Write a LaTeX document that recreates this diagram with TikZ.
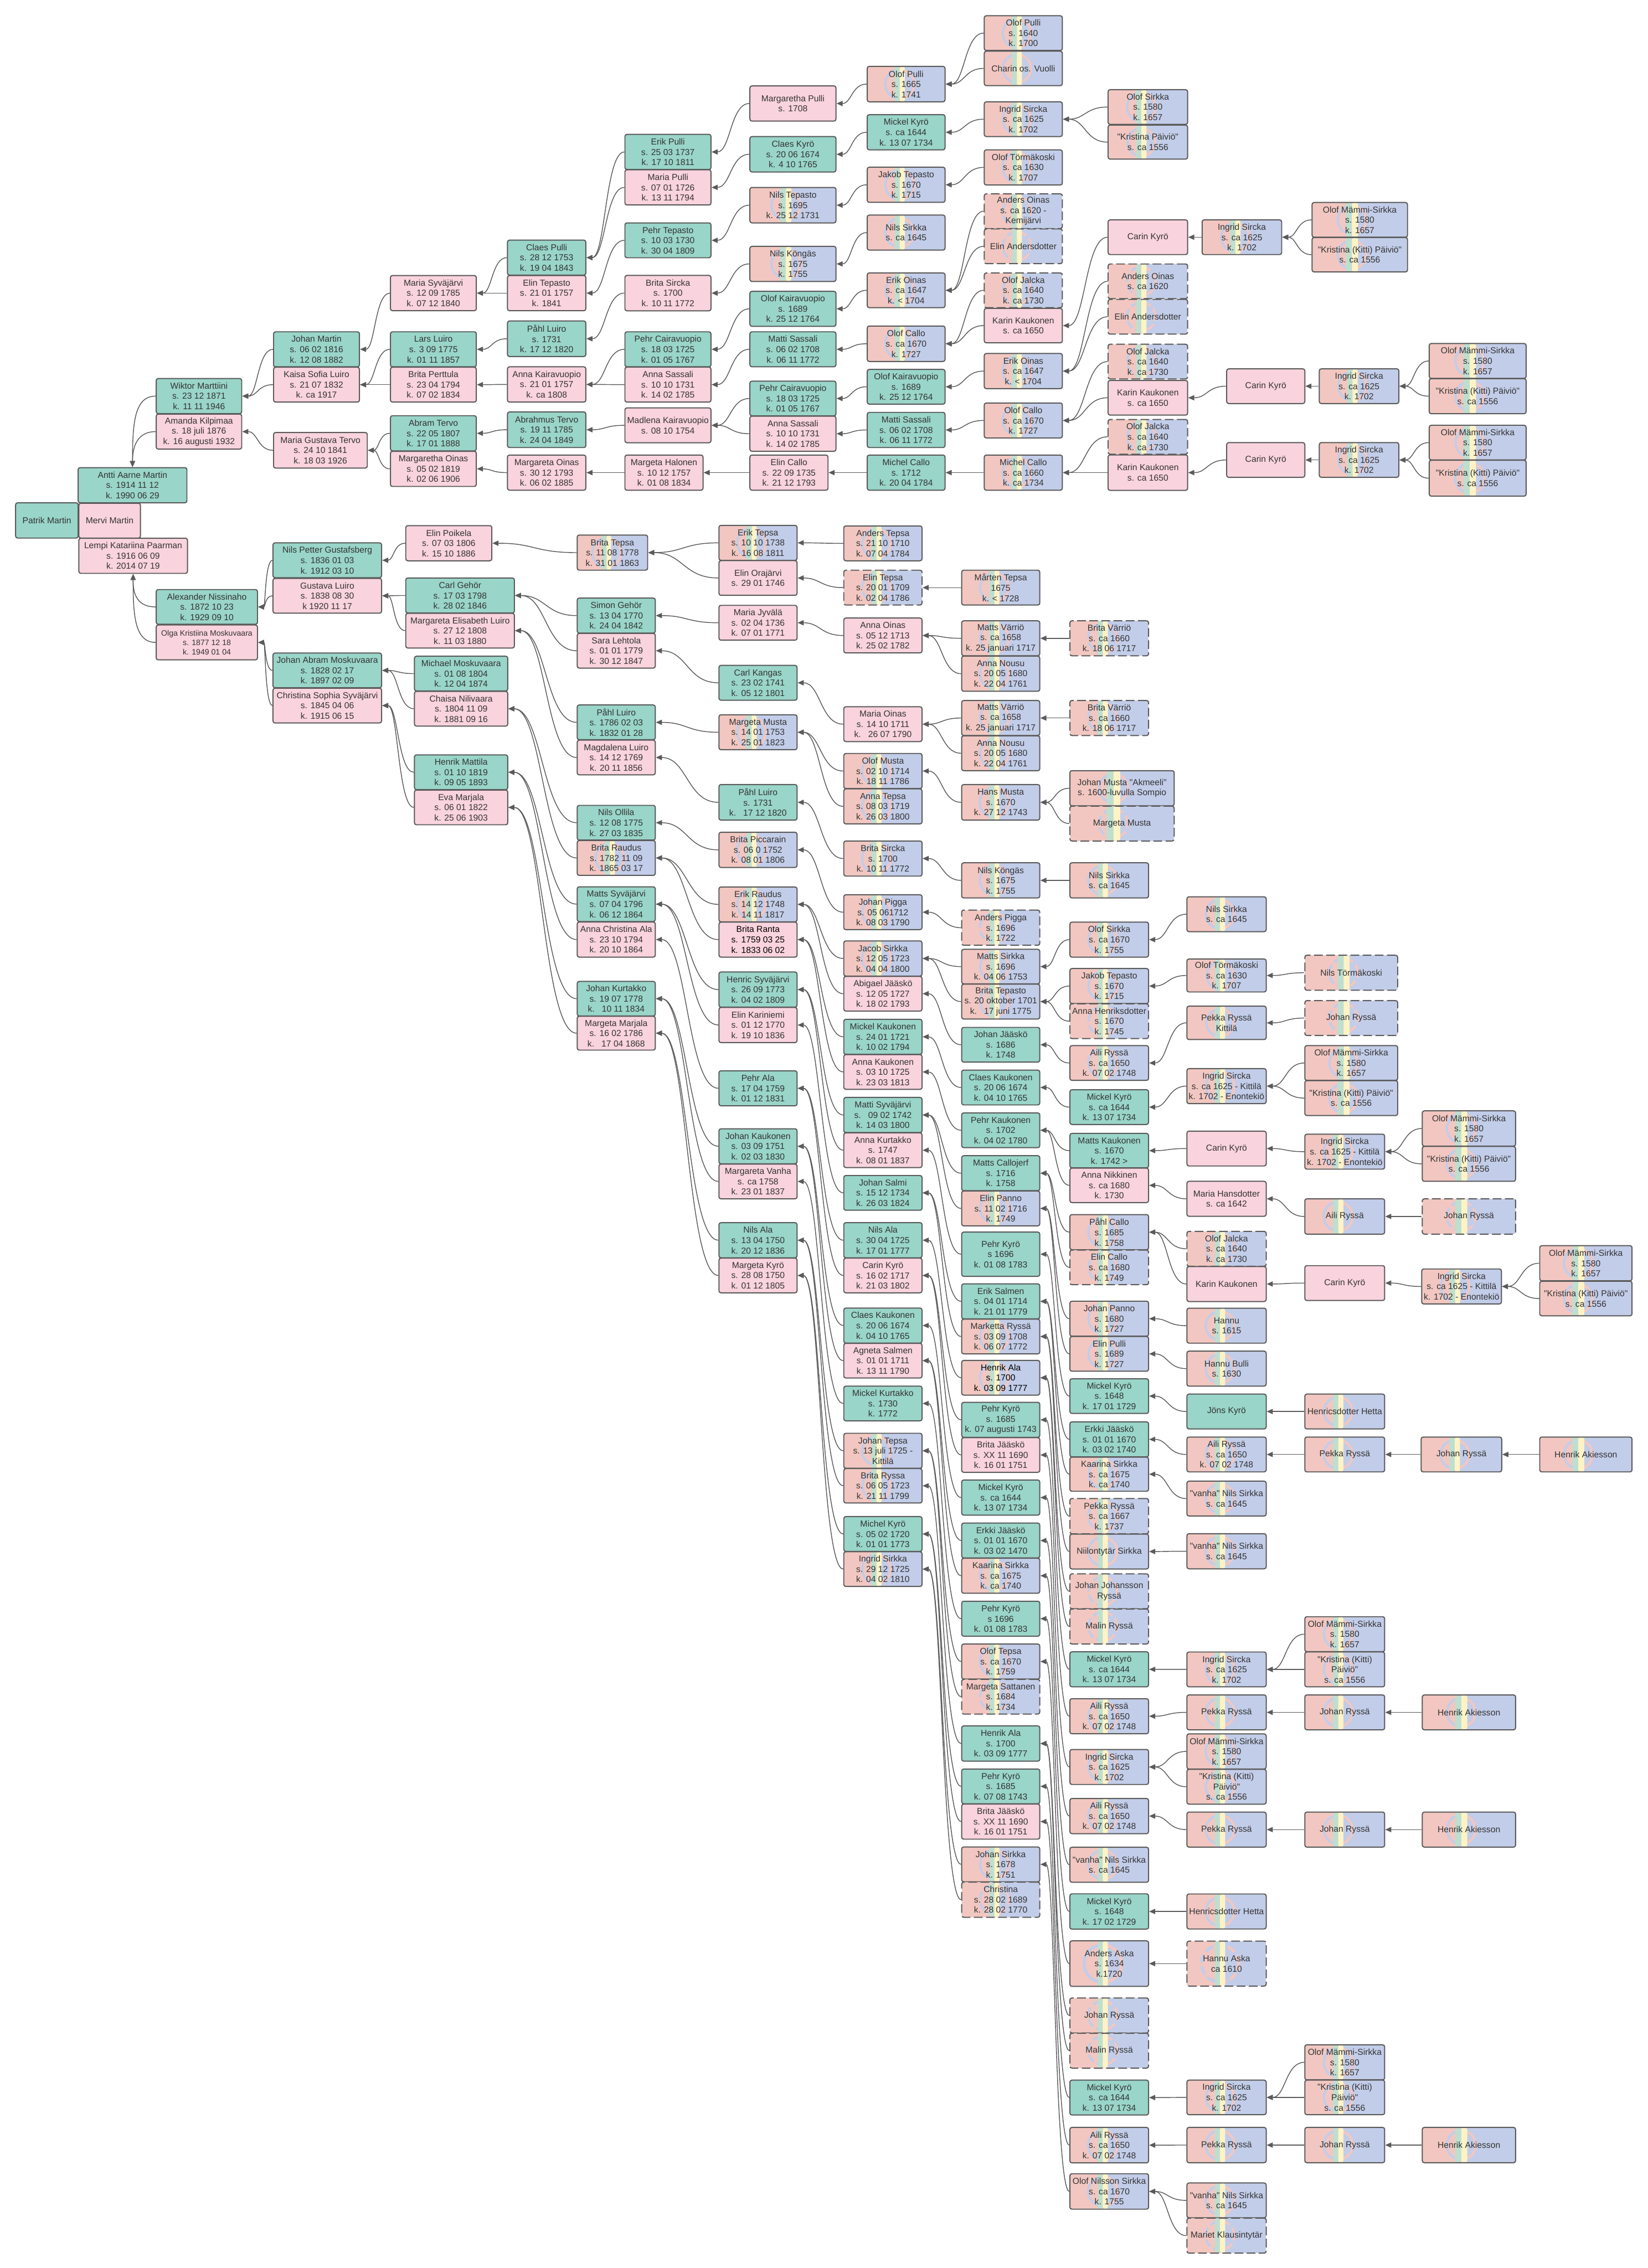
\documentclass[tikz,border=0pt]{standalone}
\usepackage{fontspec}
\newfontfamily\lsans{Liberation Sans}
\usetikzlibrary{arrows.meta,calc}
\definecolor{cTeal}{HTML}{99D5C9}
\definecolor{cPink}{HTML}{F9D3DE}
\definecolor{cSal}{HTML}{F2C7C1}
\definecolor{cBlu}{HTML}{C2CDE9}
\definecolor{cGrn}{HTML}{BEDFCF}
\definecolor{cYel}{HTML}{FFF3C6}
\definecolor{cBorder}{HTML}{5A5A5A}
\definecolor{cLine}{HTML}{5A5A5A}
\definecolor{cText}{HTML}{333333}
\pgfdeclarelayer{bg}\pgfsetlayers{bg,main}
\newcommand\samiflag{%
  \pgfpointanchor{path picture bounding box}{south west}\pgfgetlastxy{\smXa}{\smYa}%
  \pgfpointanchor{path picture bounding box}{north east}\pgfgetlastxy{\smXb}{\smYb}%
  \pgfmathsetlengthmacro\smW{(\smXb)-(\smXa)}%
  \pgfmathsetlengthmacro\smH{abs((\smYb)-(\smYa))}%
  \pgfmathsetlengthmacro\smC{(\smXa)+0.418*(\smW)}%
  \pgfmathsetlengthmacro\smM{((\smYa)+(\smYb))/2}%
  \pgfmathsetlengthmacro\smR{0.41*(\smH)}%
  \pgfmathsetlengthmacro\smS{0.064*(\smW)}%
  \pgfmathsetlengthmacro\smL{0.065*(\smH)}%
  \pgfmathsetlengthmacro\smCa{(\smC)-(\smS)}%
  \pgfmathsetlengthmacro\smCb{(\smC)+(\smS)}%
  \fill[cSal] (\smXa,\smYa) rectangle (\smXb,\smYb);
  \fill[cBlu] (\smC,\smYa) rectangle (\smXb,\smYb);
  \begin{scope}
    \clip (\smXa,\smYa) rectangle (\smC,\smYb);
    \draw[cBlu,line width=\smL] (\smC,\smM) circle[radius=\smR];
  \end{scope}
  \begin{scope}
    \clip (\smC,\smYa) rectangle (\smXb,\smYb);
    \draw[cSal,line width=\smL] (\smC,\smM) circle[radius=\smR];
  \end{scope}
  \fill[cGrn] (\smCa,\smYa) rectangle (\smC,\smYb);
  \fill[cYel] (\smC,\smYa) rectangle (\smCb,\smYb);
}
\tikzset{
  box/.style={draw=cBorder,line width=0.75pt,rounded corners=1.4pt,inner sep=0.5pt,
    align=center,text=cText,font=\lsans\fontsize{6}{7.1}\selectfont},
  M/.style={box,fill=cTeal},
  F/.style={box,fill=cPink},
  S/.style={box,path picture={\samiflag}},
  dsh/.style={dash pattern=on 6pt off 2.4pt},
  small/.style={font=\lsans\fontsize{5.4}{6.5}\selectfont},
  dark/.style={text=black},
  conn/.style={draw=cLine,line width=0.55pt,-{Triangle[length=4.2pt,width=3.6pt]}},
}
\newcommand\Nd[7]{\node[#2,minimum width={(#5)-(#3)},minimum height={(#6)-(#4)}] (#1) at ({((#3)+(#5))/2},{((#4)+(#6))/2}) {#7};}
\newcommand\setcol[2]{\def\cxa{#1}\def\cxb{#2}}
\newcommand\Bx[5]{\Nd{#1}{#2}{\cxa}{#3}{\cxb}{#4}{#5}}
\newcommand\Cn[2]{\draw[conn] let \p1=(#1.west), \p2=(#2.east), \n1={(\x1+\x2)/2} in (\p1) .. controls (\n1,\y1) and (\n1,\y2) .. (\p2);}
\begin{document}
\begin{tikzpicture}[x=1pt,y=-1pt]
\useasboundingbox (0,0) rectangle (1139,1568);
% ================= UPPER =================
\Nd{patrik}{M}{10.8}{347.6}{54}{372}{Patrik Martin}
\Nd{mervi}{F}{54.5}{347.9}{97.1}{372}{Mervi Martin}
\Nd{antti}{M}{54}{323.3}{129.2}{347.6}{Antti Aarne Martin\\s. 1914 11 12\\k. 1990 06 29}
\Nd{lempi}{F}{54.5}{372.1}{129.6}{396.4}{Lempi Katariina Paarman\\s. 1916 06 09\\k. 2014 07 19}
\setcol{108}{167.1}
\Bx{wiktor}{M}{261.7}{286}{Wiktor Marttiini\\s. 23 12 1871\\k. 11 11 1946}
\Bx{amanda}{F}{286.3}{310.5}{Amanda Kilpimaa\\s. 18 juli 1876\\k. 16 augusti 1932}
\setcol{189.1}{248.5}
\Bx{johanm}{M}{229.4}{253.6}{Johan Martin\\s. 06 02 1816\\k. 12 08 1882}
\Bx{kaisa}{F}{253.9}{278}{Kaisa Sofia Luiro\\s. 21 07 1832\\k. ca 1917}
\Nd{mgtervo}{F}{189.1}{299}{253.9}{323.6}{Maria Gustava Tervo\\s. 24 10 1841\\k. 18 03 1926}
\setcol{269.9}{329.3}
\Bx{msyv}{F}{190.5}{214.8}{Maria Syväjärvi\\s. 12 09 1785\\k. 07 12 1840}
\Bx{larsl}{M}{229.4}{253.6}{Lars Luiro\\s. 3 09 1775\\k. 01 11 1857}
\Bx{britap}{F}{253.9}{278}{Brita Perttula\\s. 23 04 1794\\k. 07 02 1834}
\Bx{abramt}{M}{287.4}{311.7}{Abram Tervo\\s. 22 05 1807\\k. 17 01 1888}
\Bx{margoin1}{F}{312}{336.3}{Margaretha Oinas\\s. 05 02 1819\\k. 02 06 1906}
\setcol{350.8}{405}
\Bx{claesp}{M}{166}{190.2}{Claes Pulli\\s. 28 12 1753\\k. 19 04 1843}
\Bx{elint}{F}{190.5}{214.8}{Elin Tepasto\\s. 21 01 1757\\k. 1841}
\Bx{pahla}{M}{221.9}{246.5}{Påhl Luiro\\s. 1731\\k. 17 12 1820}
\Bx{annak}{F}{253.6}{278}{Anna Kairavuopio\\s. 21 01 1757\\k. ca 1808}
\Bx{abrahmus}{M}{284.8}{309.4}{Abrahmus Tervo\\s. 19 11 1785\\k. 24 04 1849}
\Bx{margoin2}{F}{314.6}{338.9}{Margareta Oinas\\s. 30 12 1793\\k. 06 02 1885}
\setcol{432}{491.5}
\Bx{erikp}{M}{92.9}{117.2}{Erik Pulli\\s. 25 03 1737\\k. 17 10 1811}
\Bx{mariap}{F}{117.4}{141.7}{Maria Pulli\\s. 07 01 1726\\k. 13 11 1794}
\Bx{pehrt}{M}{154.1}{178.2}{Pehr Tepasto\\s. 10 03 1730\\k. 30 04 1809}
\Bx{britas}{F}{190.4}{214.9}{Brita Sircka\\s. 1700\\k. 10 11 1772}
\Bx{pehrca}{M}{229.4}{253.6}{Pehr Cairavuopio\\s. 18 03 1725\\k. 01 05 1767}
\Bx{annasa}{F}{253.8}{278}{Anna Sassali\\s. 10 10 1731\\k. 14 02 1785}
\Bx{madlena}{F}{282}{306.1}{Madlena Kairavuopio\\s. 08 10 1754}
\Nd{margh}{F}{432}{314.6}{486}{338.9}{Margeta Halonen\\s. 10 12 1757\\k. 01 08 1834}
\setcol{518.4}{577.9}
\Bx{margp}{F}{59.4}{83.7}{Margaretha Pulli\\s. 1708}
\Bx{claesk}{M}{94.4}{118.9}{Claes Kyrö\\s. 20 06 1674\\k. 4 10 1765}
\Bx{nilst}{S}{129.6}{154.1}{Nils Tepasto\\s. 1695\\k. 25 12 1731}
\Bx{nilsk}{S}{170.3}{194.6}{Nils Köngäs\\s. 1675\\k. 1755}
\Bx{olofka}{M}{201.4}{225.6}{Olof Kairavuopio\\s. 1689\\k. 25 12 1764}
\Bx{mattisa}{M}{229.4}{253.6}{Matti Sassali\\s. 06 02 1708\\k. 06 11 1772}
\Bx{pehrcb}{M}{263.5}{287.5}{Pehr Cairavuopio\\s. 18 03 1725\\k. 01 05 1767}
\Bx{annasb}{F}{287.7}{312}{Anna Sassali\\s. 10 10 1731\\k. 14 02 1785}
\Nd{elinc}{F}{518.4}{314.6}{572.4}{338.9}{Elin Callo\\s. 22 09 1735\\k. 21 12 1793}
\setcol{599.5}{653.3}
\Bx{olofpb}{S}{45.9}{70.4}{Olof Pulli\\s. 1665\\k. 1741}
\Bx{mickk}{M}{79.3}{103.6}{Mickel Kyrö\\s. ca 1644\\k. 13 07 1734}
\Bx{jakobt}{S}{115.6}{139.9}{Jakob Tepasto\\s. 1670\\k. 1715}
\Bx{nilssi}{S}{148.7}{172.9}{Nils Sirkka\\s. ca 1645}
\Bx{erikoa}{S}{188.7}{212.7}{Erik Oinas\\s. ca 1647\\k. < 1704}
\Bx{olofca}{S}{225.4}{249.9}{Olof Callo\\s. ca 1670\\k. 1727}
\Bx{olofkb}{M}{255.4}{279.4}{Olof Kairavuopio\\s. 1689\\k. 25 12 1764}
\Bx{mattisb}{M}{285.1}{309.4}{Matti Sassali\\s. 06 02 1708\\k. 06 11 1772}
\Bx{michca}{M}{314.6}{338.9}{Michel Callo\\s. 1712\\k. 20 04 1784}
\setcol{680.4}{734.4}
\Bx{olofpa}{S}{10.9}{34.9}{Olof Pulli\\s. 1640\\k. 1700}
\Bx{charin}{S}{35.4}{59.2}{Charin os. Vuolli}
\Bx{ingra}{S}{70.4}{94.4}{Ingrid Sircka\\s. ca 1625\\k. 1702}
\Bx{olofta}{S}{103.6}{127.9}{Olof Törmäkoski\\s. ca 1630\\k. 1707}
\Bx{andoa}{S,dsh}{134}{158}{Anders Oinas\\s. ca 1620 -\\Kemijärvi}
\Bx{elinaa}{S,dsh}{158.3}{182.3}{Elin Andersdotter}
\Bx{olofja}{S,dsh}{188.7}{212.7}{Olof Jalcka\\s. ca 1640\\k. ca 1730}
\Bx{karinka}{F}{213.2}{237}{Karin Kaukonen\\s. ca 1650}
\Bx{erikob}{S}{244.4}{268.7}{Erik Oinas\\s. ca 1647\\k. < 1704}
\Bx{olofcb}{S}{278.6}{302.8}{Olof Callo\\s. ca 1670\\k. 1727}
\Bx{michcb}{S}{314.6}{338.9}{Michel Callo\\s. ca 1660\\k. ca 1734}
\setcol{766}{821}
\Bx{olofsa}{S}{62}{86}{Olof Sirkka\\s. 1580\\k. 1657}
\Bx{krispa}{S}{86.5}{110}{"Kristina Päiviö"\\s. ca 1556}
\Bx{carina}{F}{152}{176}{Carin Kyrö}
\Bx{andob}{S,dsh}{182.5}{206.5}{Anders Oinas\\s. ca 1620}
\Bx{elinab}{S,dsh}{207}{231}{Elin Andersdotter}
\Bx{olofjb}{S,dsh}{238}{262}{Olof Jalcka\\s. ca 1640\\k. ca 1730}
\Bx{karinkb}{F}{263}{287}{Karin Kaukonen\\s. ca 1650}
\Bx{olofjc}{S,dsh}{290}{314}{Olof Jalcka\\s. ca 1640\\k. ca 1730}
\Bx{karinkc}{F}{314.5}{339}{Karin Kaukonen\\s. ca 1650}
\Nd{ingrb}{S}{831}{152}{886}{176}{Ingrid Sircka\\s. ca 1625\\k. 1702}
\Nd{olofma}{S}{907}{140}{973}{164}{Olof Mämmi-Sirkka\\s. 1580\\k. 1657}
\Nd{kriska}{S}{907}{164.2}{973}{188}{"Kristina (Kitti) Päiviö"\\s. ca 1556}
\Nd{carinb}{F}{848}{255}{902}{279}{Carin Kyrö}
\Nd{ingrc}{S}{912}{255}{967}{279}{Ingrid Sircka\\s. ca 1625\\k. 1702}
\Nd{olofmb}{S}{988}{237.5}{1055}{261.6}{Olof Mämmi-Sirkka\\s. 1580\\k. 1657}
\Nd{kriskb}{S}{988}{261.8}{1055}{286}{"Kristina (Kitti) Päiviö"\\s. ca 1556}
\Nd{carinc}{F}{848}{306}{902}{330}{Carin Kyrö}
\Nd{ingrd}{S}{912}{306}{967}{330}{Ingrid Sircka\\s. ca 1625\\k. 1702}
\Nd{olofmc}{S}{988}{294}{1055}{318}{Olof Mämmi-Sirkka\\s. 1580\\k. 1657}
\Nd{kriskc}{S}{988}{318.2}{1055}{343}{"Kristina (Kitti) Päiviö"\\s. ca 1556}
% ================= LOWER =================
\Nd{alex}{M}{108}{407.6}{178}{431.6}{Alexander Nissinaho\\s. 1872 10 23\\k. 1929 09 10}
\Nd{olga}{F,small}{108}{432.1}{178}{456.2}{Olga Kristiina Moskuvaara\\s. 1877 12 18\\k. 1949 01 04}
\setcol{188.7}{263.8}
\Bx{nilspg}{M}{375.3}{399.4}{Nils Petter Gustafsberg\\s. 1836 01 03\\k. 1912 03 10}
\Bx{gustava}{F}{399.9}{423.9}{Gustava Luiro\\s. 1838 08 30\\k 1920 11 17}
\Bx{johanab}{M}{451.5}{475.5}{Johan Abram Moskuvaara\\s. 1828 02 17\\k. 1897 02 09}
\Bx{christs}{F}{475.8}{499.8}{Christina Sophia Syväjärvi\\s. 1845 04 06\\k. 1915 06 15}
\Nd{elinp}{F}{280.5}{363.4}{340}{387.7}{Elin Poikela\\s. 07 03 1806\\k. 15 10 1886}
\setcol{280.5}{355.6}
\Bx{carlg}{M}{399.6}{423.8}{Carl Gehör\\s. 17 03 1798\\k. 28 02 1846}
\Bx{margel}{F}{424}{448}{Margareta Elisabeth Luiro\\s. 27 12 1808\\k. 11 03 1880}
\setcol{286.5}{351}
\Bx{michaelm}{M}{453.7}{477.7}{Michael Moskuvaara\\s. 01 08 1804\\k. 12 04 1874}
\Bx{chaisa}{F}{478}{502}{Chaisa Nilivaara\\s. 1804 11 09\\k. 1881 09 16}
\Bx{henrikm}{M}{521.9}{545.9}{Henrik Mattila\\s. 01 10 1819\\k. 09 05 1893}
\Bx{evam}{F}{546.2}{570.2}{Eva Marjala\\s. 06 01 1822\\k. 25 06 1903}
\Nd{britatep}{S}{399}{369.9}{447.7}{394.2}{Brita Tepsa\\s. 11 08 1778\\k. 31 01 1863}
\setcol{399}{453}
\Bx{simong}{M}{413.5}{437.7}{Simon Gehör\\s. 13 04 1770\\k. 24 04 1842}
\Bx{saral}{F}{437.9}{461.9}{Sara Lehtola\\s. 01 01 1779\\k. 30 12 1847}
\Bx{pahlb}{M}{487.4}{511.4}{Påhl Luiro\\s. 1786 02 03\\k. 1832 01 28}
\Bx{magdal}{F}{511.7}{535.7}{Magdalena Luiro\\s. 14 12 1769\\k. 20 11 1856}
\Bx{nilso}{M}{556.8}{580.8}{Nils Ollila\\s. 12 08 1775\\k. 27 03 1835}
\Bx{britar}{S}{581.1}{605.2}{Brita Raudus\\s. 1782 11 09\\k. 1865 03 17}
\Bx{mattssy}{M}{613.1}{637.1}{Matts Syväjärvi\\s. 07 04 1796\\k. 06 12 1864}
\Bx{annachr}{F}{637.4}{661.7}{Anna Christina Ala\\s. 23 10 1794\\k. 20 10 1864}
\Bx{johankur}{M}{678.5}{702.4}{Johan Kurtakko\\s. 19 07 1778\\k.\ \ \ 10 11 1834}
\Bx{margmar}{F}{702.6}{726}{Margeta Marjala\\s. 16 02 1786\\k.\ \ \ 17 04 1868}
\setcol{497}{551}
\Bx{erikt}{S}{363.2}{387.4}{Erik Tepsa\\s. 10 10 1738\\k. 16 08 1811}
\Bx{elino}{F}{387.6}{411.6}{Elin Orajärvi\\s. 29 01 1746}
\Bx{mariaj}{F}{418.5}{442.6}{Maria Jyvälä\\s. 02 04 1736\\k. 07 01 1771}
\Bx{carlk}{M}{460}{484.1}{Carl Kangas\\s. 23 02 1741\\k. 05 12 1801}
\Bx{margma}{S}{494.2}{518.3}{Margeta Musta\\s. 14 01 1753\\k. 25 01 1823}
\Bx{pahlc}{M}{542.4}{567}{Påhl Luiro\\s. 1731\\k.\ \ \ 17 12 1820}
\Bx{britapic}{S}{575.4}{599.7}{Brita Piccarain\\s. 06 0 1752\\k. 08 01 1806}
\Bx{erikr}{S}{613.2}{637.3}{Erik Raudus\\s. 14 12 1748\\k. 14 11 1817}
\Bx{britaran}{F,dark}{637.5}{661.7}{Brita Ranta\\s. 1759 03 25\\k. 1833 06 02}
\Bx{henricsy}{M}{672}{696.3}{Henric Syväjärvi\\s. 26 09 1773\\k. 04 02 1809}
\Bx{elinkar}{F}{696.5}{720.8}{Elin Kariniemi\\s. 01 12 1770\\k. 19 10 1836}
\Bx{pehrala}{M}{740.3}{764.5}{Pehr Ala\\s. 17 04 1759\\k. 01 12 1831}
\Bx{johankau}{M}{780.4}{804.6}{Johan Kaukonen\\s. 03 09 1751\\k. 02 03 1830}
\Bx{margvan}{F}{804.8}{828.8}{Margareta Vanha\\s. ca 1758\\k. 23 01 1837}
\Bx{nilsalaa}{M}{845.3}{869.6}{Nils Ala\\s. 13 04 1750\\k. 20 12 1836}
\Bx{margkyr}{F}{869.8}{893.8}{Margeta Kyrö\\s. 28 08 1750\\k. 01 12 1805}
\setcol{583.3}{637.4}
\Bx{anderst}{S}{363.6}{387.7}{Anders Tepsa\\s. 21 10 1710\\k. 07 04 1784}
\Bx{elintep}{S,dsh}{394.2}{418.3}{Elin Tepsa\\s. 20 01 1709\\k. 02 04 1786}
\Bx{annaoin}{F}{427.3}{451.4}{Anna Oinas\\s. 05 12 1713\\k. 25 02 1782}
\Bx{mariaoin}{F}{488.6}{512.7}{Maria Oinas\\s. 14 10 1711\\k.\ \ \ 26 07 1790}
\Bx{olofmus}{S}{520.9}{545.2}{Olof Musta\\s. 02 10 1714\\k. 18 11 1786}
\Bx{annatep}{S}{545.4}{569.6}{Anna Tepsa\\s. 08 03 1719\\k. 26 03 1800}
\Bx{britasib}{S}{581.4}{605.7}{Brita Sircka\\s. 1700\\k. 10 11 1772}
\Bx{johanpig}{S}{618.6}{642.7}{Johan Pigga\\s. 05 061712\\k. 08 03 1790}
\Bx{jacobs}{S}{650.5}{674.8}{Jacob Sirkka\\s. 12 05 1723\\k. 04 04 1800}
\Bx{abigael}{F}{675}{699}{Abigael Jääskö\\s. 12 05 1727\\k. 18 02 1793}
\Bx{mickkau}{M}{704.7}{728.9}{Mickel Kaukonen\\s. 24 01 1721\\k. 10 02 1794}
\Bx{annakau}{F}{729.1}{753.1}{Anna Kaukonen\\s. 03 10 1725\\k. 23 03 1813}
\Bx{mattisy}{M}{758.7}{783}{Matti Syväjärvi\\s.\ \ \ 09 02 1742\\k. 14 03 1800}
\Bx{annakur}{F}{783.2}{807.2}{Anna Kurtakko\\s. 1747\\k. 08 01 1837}
\Bx{johansal}{M}{812.7}{836.7}{Johan Salmi\\s. 15 12 1734\\k. 26 03 1824}
\Bx{nilsalab}{M}{845.3}{869.6}{Nils Ala\\s. 30 04 1725\\k. 17 01 1777}
\Bx{carinky}{F}{869.8}{893.8}{Carin Kyrö\\s. 16 02 1717\\k. 21 03 1802}
\Bx{claeska}{M}{904.3}{928.5}{Claes Kaukonen\\s. 20 06 1674\\k. 04 10 1765}
\Bx{agneta}{F}{928.7}{952.7}{Agneta Salmen\\s. 01 01 1711\\k. 13 11 1790}
\Bx{mickkur}{M}{958.3}{982.3}{Mickel Kurtakko\\s. 1730\\k. 1772}
\Bx{johantep}{S}{990.9}{1015.1}{Johan Tepsa\\s. 13 juli 1725 -\\Kittilä}
\Bx{britarys}{S}{1015.3}{1039.1}{Brita Ryssa\\s. 06 05 1723\\k. 21 11 1799}
\Bx{michkyr}{M}{1048.5}{1072.6}{Michel Kyrö\\s. 05 02 1720\\k. 01 01 1773}
\Bx{ingrsir}{S}{1072.8}{1096.8}{Ingrid Sirkka\\s. 29 12 1725\\k. 04 02 1810}
\setcol{664.8}{718.8}
\Bx{marten}{S}{394.2}{418.3}{Mårten Tepsa\\1675\\k. < 1728}
\Bx{mattsva}{S}{429.2}{453.4}{Matts Värriö\\s. ca 1658\\k. 25 januari 1717}
\Bx{annana}{S}{453.6}{477.9}{Anna Nousu\\s. 20 05 1680\\k. 22 04 1761}
\Bx{mattsvb}{S}{484.3}{508.5}{Matts Värriö\\s. ca 1658\\k. 25 januari 1717}
\Bx{annanb}{S}{508.7}{532.8}{Anna Nousu\\s. 20 05 1680\\k. 22 04 1761}
\Bx{hansm}{S}{542.4}{567}{Hans Musta\\s. 1670\\k. 27 12 1743}
\Bx{nilskb}{S}{596.5}{620.8}{Nils Köngäs\\s. 1675\\k. 1755}
\Bx{anderspig}{S,dsh}{629.2}{653.5}{Anders Pigga\\s. 1696\\k. 1722}
\Bx{mattssir}{S}{656.3}{680.2}{Matts Sirkka\\s. 1696\\k. 04 06 1753}
\Bx{britatepa}{S}{680.4}{704.5}{Brita Tepasto\\s. 20 oktober 1701\\k.\ \ \ 17 juni 1775}
\Bx{johanjaa}{M}{710.3}{734.3}{Johan Jääskö\\s. 1686\\k. 1748}
\Bx{claeskb}{M}{739.8}{763.9}{Claes Kaukonen\\s. 20 06 1674\\k. 04 10 1765}
\Bx{pehrkau}{M}{769.4}{793.4}{Pehr Kaukonen\\s. 1702\\k. 04 02 1780}
\Bx{mattscal}{M}{799}{823.2}{Matts Callojerf\\s. 1716\\k. 1758}
\Bx{elinpan}{S}{823.4}{847.5}{Elin Panno\\s. 11 02 1716\\k. 1749}
\Bx{pehrkya}{M}{851.8}{882.4}{Pehr Kyrö\\s 1696\\k. 01 08 1783}
\Bx{eriksal}{M}{887.6}{911.8}{Erik Salmen\\s. 04 01 1714\\k. 21 01 1779}
\Bx{marketta}{S}{912}{936}{Marketta Ryssä\\s. 03 09 1708\\k. 06 07 1772}
\Bx{henrala}{S,dark}{940.5}{964.5}{Henrik Ala\\s. 1700\\k. 03 09 1777}
\Bx{pehrkyb}{M}{969.5}{993.7}{Pehr Kyrö\\s. 1685\\k. 07 augusti 1743}
\Bx{britajaa}{F}{993.9}{1017.9}{Brita Jääskö\\s. XX 11 1690\\k. 16 01 1751}
\Bx{mickkyc}{M}{1023.2}{1047.5}{Mickel Kyrö\\s. ca 1644\\k. 13 07 1734}
\Bx{erkkia}{M}{1053}{1077.1}{Erkki Jääskö\\s. 01 01 1670\\k. 03 02 1470}
\Bx{kaarinaa}{S}{1077.3}{1101.5}{Kaarina Sirkka\\s. ca 1675\\k. ca 1740}
\Bx{pehrkyc}{M}{1107}{1131.2}{Pehr Kyrö\\s 1696\\k. 01 08 1783}
\Bx{oloftep}{S}{1136.6}{1160.8}{Olof Tepsa\\s. ca 1670\\k. 1759}
\Bx{margsat}{S,dsh}{1161}{1185}{Margeta Sattanen\\s. 1684\\k. 1734}
\Bx{henralb}{M}{1193.2}{1217.6}{Henrik Ala\\s. 1700\\k. 03 09 1777}
\Bx{pehrkyd}{M}{1223}{1247}{Pehr Kyrö\\s. 1685\\k. 07 08 1743}
\Bx{britajab}{F}{1247.2}{1271.5}{Brita Jääskö\\s. XX 11 1690\\k. 16 01 1751}
\Bx{johansir}{S}{1276.9}{1301}{Johan Sirkka\\s. 1678\\k. 1751}
\Bx{christb}{S,dsh}{1301.2}{1325.5}{Christina\\s. 28 02 1689\\k. 28 02 1770}
\setcol{739.6}{794}
\Bx{britava}{S,dsh}{429.2}{453.4}{Brita Värriö\\s. ca 1660\\k. 18 06 1717}
\Bx{britavb}{S,dsh}{484.3}{508.5}{Brita Värriö\\s. ca 1660\\k. 18 06 1717}
\Nd{johanmus}{S}{739.6}{532.8}{811.7}{557.1}{Johan Musta "Akmeeli"\\s. 1600-luvulla Sompio}
\Nd{margmb}{S,dsh}{739.6}{557.3}{811.7}{581.4}{Margeta Musta}
\Bx{nilssb}{S}{596.5}{620.8}{Nils Sirkka\\s. ca 1645}
\Bx{olofsb}{S}{637.5}{661.7}{Olof Sirkka\\s. ca 1670\\k. 1755}
\Bx{jakobtb}{S}{669.6}{693.8}{Jakob Tepasto\\s. 1670\\k. 1715}
\Bx{annahen}{S,dsh}{694}{718}{Anna Henriksdotter\\s. 1670\\k. 1745}
\Bx{ailira}{S}{722.9}{746.9}{Aili Ryssä\\s. ca 1650\\k. 07 02 1748}
\Bx{mickkyd}{M}{753.4}{777.4}{Mickel Kyrö\\s. ca 1644\\k. 13 07 1734}
\Bx{mattskau}{M}{783.6}{807.4}{Matts Kaukonen\\s. 1670\\k. 1742 >}
\Bx{annanik}{F}{807.6}{831.4}{Anna Nikkinen\\s. ca 1680\\k. 1730}
\Bx{pahlcal}{S}{839.7}{864}{Påhl Callo\\s. 1685\\k. 1758}
\Bx{elincalb}{S,dsh}{864.2}{888.2}{Elin Callo\\s. ca 1680\\k. 1749}
\Bx{johanpan}{S}{899.6}{923.8}{Johan Panno\\s. 1680\\k. 1727}
\Bx{elinpul}{S}{924}{948}{Elin Pulli\\s. 1689\\k. 1727}
\Bx{mickkye}{M}{953.2}{977.2}{Mickel Kyrö\\s. 1648\\k. 17 01 1729}
\Bx{erkkib}{M}{983}{1007.2}{Erkki Jääskö\\s. 01 01 1670\\k. 03 02 1740}
\Bx{kaarinab}{S}{1007.4}{1031}{Kaarina Sirkka\\s. ca 1675\\k. ca 1740}
\Bx{pekkaa}{S,dsh}{1036}{1060.4}{Pekka Ryssä\\s. ca 1667\\k. 1737}
\Bx{niilon}{S}{1060.6}{1084.7}{Niilontytär Sirkka}
\Bx{johanjr}{S,dsh}{1088.1}{1112.2}{Johan Johansson\\Ryssä}
\Bx{malina}{S,dsh}{1112.4}{1136.6}{Malin Ryssä}
\Bx{mickkyf}{M}{1142}{1166.2}{Mickel Kyrö\\s. ca 1644\\k. 13 07 1734}
\Bx{ailirb}{S}{1174.4}{1198.6}{Aili Ryssä\\s. ca 1650\\k. 07 02 1748}
\Bx{ingre}{S}{1209.5}{1233.7}{Ingrid Sircka\\s. ca 1625\\k. 1702}
\Bx{ailirc}{S}{1243.4}{1267.7}{Aili Ryssä\\s. ca 1650\\k. 07 02 1748}
\Bx{vanhaa}{S}{1277.1}{1301.3}{"vanha" Nils Sirkka\\s. ca 1645}
\Bx{mickkyg}{M}{1309.3}{1333.7}{Mickel Kyrö\\s. 1648\\k. 17 02 1729}
\Bx{andaska}{S}{1341.8}{1373.3}{Anders Aska\\s. 1634\\k.1720}
\Bx{johanra}{S,dsh}{1381.3}{1405.5}{Johan Ryssä}
\Bx{malinb}{S,dsh}{1405.7}{1429.8}{Malin Ryssä}
\Bx{mickkyh}{M}{1438.1}{1462.2}{Mickel Kyrö\\s. ca 1644\\k. 13 07 1734}
\Bx{ailird}{S}{1470.8}{1495.3}{Aili Ryssä\\s. ca 1650\\k. 07 02 1748}
\Bx{olofnil}{S}{1502.8}{1527.3}{Olof Nilsson Sirkka\\s. ca 1670\\k. 1755}
\setcol{820.5}{875.3}
\Bx{nilssc}{S}{620}{644.1}{Nils Sirkka\\s. ca 1645}
\Bx{oloftb}{S}{663}{685.8}{Olof Törmäkoski\\s. ca 1630\\k. 1707}
\Bx{pekkak}{S}{695.6}{718.7}{Pekka Ryssä\\Kittilä}
\Bx{ingrka}{S}{738.8}{763}{Ingrid Sircka\\s. ca 1625 - Kittilä\\k. 1702 - Enontekiö}
\Bx{carind}{F}{782}{806.1}{Carin Kyrö}
\Bx{mariah}{F}{816.7}{840.9}{Maria Hansdotter\\s. ca 1642}
\Bx{olofjd}{S,dsh}{851.3}{875.4}{Olof Jalcka\\s. ca 1640\\k. ca 1730}
\Bx{karinkd}{F}{875.6}{899.8}{Karin Kaukonen}
\Bx{hannu}{S}{904.4}{928.6}{Hannu\\s. 1615}
\Bx{hannub}{S}{934.1}{958.3}{Hannu Bulli\\s. 1630}
\Bx{jons}{M}{963.8}{987.9}{Jöns Kyrö}
\Bx{ailire}{S}{993.5}{1017.6}{Aili Ryssä\\s. ca 1650\\k. 07 02 1748}
\Bx{vanhab}{S}{1024}{1048.1}{"vanha" Nils Sirkka\\s. ca 1645}
\Bx{vanhac}{S}{1060.3}{1084.6}{"vanha" Nils Sirkka\\s. ca 1645}
\Bx{ingrf}{S}{1142.1}{1166.2}{Ingrid Sircka\\s. ca 1625\\k. 1702}
\Bx{pekkab}{S}{1171.8}{1195.9}{Pekka Ryssä}
\Bx{olofmd}{S}{1198.7}{1223}{Olof Mämmi-Sirkka\\s. 1580\\k. 1657}
\Bx{kriskd}{S}{1223.2}{1247.3}{"Kristina (Kitti)\\Päiviö"\\s. ca 1556}
\Bx{pekkac}{S}{1252.8}{1277}{Pekka Ryssä}
\Bx{hettab}{S}{1309.4}{1333.6}{Henricsdotter Hetta}
\Bx{hannuask}{S,dsh}{1342}{1373.1}{Hannu Aska\\ca 1610}
\Bx{ingrg}{S}{1438.1}{1462}{Ingrid Sircka\\s. ca 1625\\k. 1702}
\Bx{pekkad}{S}{1470.8}{1495.2}{Pekka Ryssä}
\Bx{vanhad}{S}{1509.2}{1533.3}{"vanha" Nils Sirkka\\s. ca 1645}
\Bx{mariet}{S,dsh}{1533.5}{1557.7}{Mariet Klausintytär}
\setcol{902}{966.2}
\Bx{nilstorm}{S,dsh}{660.4}{684.6}{Nils Törmäkoski}
\Bx{johanrb}{S,dsh}{691.8}{715.9}{Johan Ryssä}
\Bx{olofme}{S}{722.9}{746.9}{Olof Mämmi-Sirkka\\s. 1580\\k. 1657}
\Bx{kriske}{S}{747.1}{771.2}{"Kristina (Kitti) Päiviö"\\s. ca 1556}
\setcol{902}{957.2}
\Bx{ingrkb}{S}{784.1}{808.3}{Ingrid Sircka\\s. ca 1625 - Kittilä\\k. 1702 - Enontekiö}
\Bx{ailirf}{S}{828.8}{853.2}{Aili Ryssä}
\Bx{carine}{F}{875}{899.1}{Carin Kyrö}
\Bx{hettaa}{S}{963.8}{987.9}{Henricsdotter Hetta}
\Bx{pekkae}{S}{993.5}{1017.6}{Pekka Ryssä}
\Bx{olofmf}{S}{1117.7}{1141.9}{Olof Mämmi-Sirkka\\s. 1580\\k. 1657}
\Bx{kriskf}{S}{1142.1}{1166.2}{"Kristina (Kitti)\\Päiviö"\\s. ca 1556}
\Bx{johanrc}{S}{1171.8}{1195.9}{Johan Ryssä}
\Bx{johanrd}{S}{1252.8}{1277}{Johan Ryssä}
\Bx{olofmg}{S}{1413.7}{1437.9}{Olof Mämmi-Sirkka\\s. 1580\\k. 1657}
\Bx{kriskg}{S}{1438.1}{1462}{"Kristina (Kitti)\\Päiviö"\\s. ca 1556}
\Bx{johanre}{S}{1470.8}{1495.2}{Johan Ryssä}
\setcol{983.2}{1047.7}
\Bx{olofmh}{S}{768}{792.4}{Olof Mämmi-Sirkka\\s. 1580\\k. 1657}
\Bx{kriskh}{S}{792.6}{816.7}{"Kristina (Kitti) Päiviö"\\s. ca 1556}
\Bx{johanrf}{S,dsh}{828.8}{853.2}{Johan Ryssä}
\Nd{ingrkc}{S}{982.8}{877.3}{1037.9}{901.5}{Ingrid Sircka\\s. ca 1625 - Kittilä\\k. 1702 - Enontekiö}
\Nd{johanrg}{S}{982.4}{993.5}{1038.1}{1017.6}{Johan Ryssä}
\Bx{henrika}{S}{1171.8}{1195.9}{Henrik Akiesson}
\Bx{henrikb}{S}{1252.8}{1277}{Henrik Akiesson}
\Bx{henrikc}{S}{1470.8}{1495.2}{Henrik Akiesson}
\setcol{1064.4}{1128.2}
\Bx{olofmi}{S}{861.2}{885.5}{Olof Mämmi-Sirkka\\s. 1580\\k. 1657}
\Bx{kriski}{S}{885.8}{909.7}{"Kristina (Kitti) Päiviö"\\s. ca 1556}
\Bx{henrikd}{S}{993.5}{1017.6}{Henrik Akiesson}
% ================= CONNECTORS =================
\begin{pgfonlayer}{bg}
\fill[white] (0,0) rectangle (1139,1568);
\draw[conn] (wiktor.west) .. controls (93,273.9) and (91.6,292) .. (antti.north);
\draw[conn] (amanda.west) .. controls (93,298.4) and (91.6,312) .. (antti.north);
\draw[conn] (alex.west) .. controls (93,419.6) and (92,408) .. (lempi.south);
\draw[conn] (olga.west) .. controls (93,444.1) and (92,425) .. (lempi.south);
\Cn{claesp}{msyv}\Cn{elint}{msyv}\Cn{pahla}{larsl}\Cn{annak}{britap}
\Cn{abrahmus}{abramt}\Cn{margoin2}{margoin1}\Cn{msyv}{johanm}
\Cn{larsl}{kaisa}\Cn{britap}{kaisa}\Cn{abramt}{mgtervo}\Cn{margoin1}{mgtervo}
\Cn{johanm}{wiktor}\Cn{kaisa}{wiktor}\Cn{mgtervo}{amanda}
\Cn{erikp}{claesp}\Cn{mariap}{claesp}\Cn{pehrt}{elint}\Cn{britas}{pahla}
\Cn{pehrca}{annak}\Cn{annasa}{annak}\Cn{madlena}{abrahmus}\Cn{margh}{margoin2}
\Cn{margp}{erikp}\Cn{claesk}{mariap}\Cn{nilst}{pehrt}\Cn{nilsk}{britas}
\Cn{olofka}{pehrca}\Cn{mattisa}{annasa}\Cn{pehrcb}{madlena}\Cn{annasb}{madlena}
\Cn{elinc}{margh}\Cn{olofpb}{margp}\Cn{mickk}{claesk}\Cn{jakobt}{nilst}
\Cn{nilssi}{nilsk}\Cn{erikoa}{olofka}\Cn{olofca}{mattisa}\Cn{olofkb}{pehrcb}
\Cn{mattisb}{annasb}\Cn{michca}{elinc}
\Cn{olofpa}{olofpb}\Cn{charin}{olofpb}\Cn{ingra}{mickk}\Cn{olofta}{jakobt}
\Cn{andoa}{erikoa}\Cn{elinaa}{erikoa}\Cn{olofja}{olofca}\Cn{karinka}{olofca}
\Cn{erikob}{olofkb}\Cn{olofcb}{mattisb}\Cn{michcb}{michca}
\Cn{olofsa}{ingra}\Cn{krispa}{ingra}\Cn{carina}{karinka}\Cn{ingrb}{carina}
\Cn{olofma}{ingrb}\Cn{kriska}{ingrb}\Cn{andob}{erikob}\Cn{elinab}{erikob}
\Cn{olofjb}{olofcb}\Cn{karinkb}{olofcb}\Cn{carinb}{karinkb}\Cn{ingrc}{carinb}
\Cn{olofmb}{ingrc}\Cn{kriskb}{ingrc}\Cn{olofjc}{michcb}\Cn{karinkc}{michcb}
\Cn{carinc}{karinkc}\Cn{ingrd}{carinc}\Cn{olofmc}{ingrd}\Cn{kriskc}{ingrd}
% lower
\Cn{nilspg}{alex}\Cn{gustava}{alex}\Cn{johanab}{olga}\Cn{christs}{olga}
\Cn{elinp}{nilspg}\Cn{carlg}{gustava}\Cn{margel}{gustava}
\Cn{michaelm}{johanab}\Cn{chaisa}{johanab}\Cn{henrikm}{christs}\Cn{evam}{christs}
\Cn{britatep}{elinp}\Cn{simong}{carlg}\Cn{saral}{carlg}\Cn{pahlb}{margel}\Cn{magdal}{margel}
\Cn{nilso}{chaisa}\Cn{britar}{chaisa}\Cn{mattssy}{henrikm}\Cn{annachr}{henrikm}
\Cn{johankur}{evam}\Cn{margmar}{evam}
\Cn{erikt}{britatep}\Cn{elino}{britatep}\Cn{mariaj}{simong}\Cn{carlk}{saral}
\Cn{margma}{pahlb}\Cn{pahlc}{magdal}\Cn{britapic}{nilso}
\Cn{erikr}{britar}\Cn{britaran}{britar}\Cn{henricsy}{mattssy}\Cn{elinkar}{mattssy}
\Cn{pehrala}{annachr}\Cn{johankau}{johankur}\Cn{margvan}{johankur}
\Cn{nilsalaa}{margmar}\Cn{margkyr}{margmar}
\Cn{anderst}{erikt}\Cn{elintep}{elino}\Cn{annaoin}{mariaj}\Cn{mariaoin}{carlk}
\Cn{olofmus}{margma}\Cn{annatep}{margma}\Cn{britasib}{pahlc}\Cn{johanpig}{britapic}
\Cn{jacobs}{erikr}\Cn{abigael}{erikr}\Cn{mickkau}{britaran}\Cn{annakau}{britaran}
\Cn{mattisy}{henricsy}\Cn{annakur}{henricsy}\Cn{johansal}{elinkar}
\Cn{nilsalab}{pehrala}\Cn{carinky}{pehrala}\Cn{claeska}{johankau}\Cn{agneta}{johankau}
\Cn{mickkur}{margvan}\Cn{johantep}{nilsalaa}\Cn{britarys}{nilsalaa}
\Cn{michkyr}{margkyr}\Cn{ingrsir}{margkyr}
\Cn{marten}{elintep}\Cn{mattsva}{annaoin}\Cn{annana}{annaoin}
\Cn{mattsvb}{mariaoin}\Cn{annanb}{mariaoin}\Cn{hansm}{olofmus}\Cn{nilskb}{britasib}
\Cn{anderspig}{johanpig}\Cn{mattssir}{jacobs}\Cn{britatepa}{jacobs}
\Cn{johanjaa}{abigael}\Cn{claeskb}{mickkau}\Cn{pehrkau}{annakau}
\Cn{mattscal}{mattisy}\Cn{elinpan}{mattisy}\Cn{pehrkya}{annakur}
\Cn{eriksal}{johansal}\Cn{marketta}{johansal}\Cn{henrala}{nilsalab}
\Cn{pehrkyb}{carinky}\Cn{britajaa}{carinky}\Cn{mickkyc}{claeska}
\Cn{erkkia}{agneta}\Cn{kaarinaa}{agneta}\Cn{pehrkyc}{mickkur}
\Cn{oloftep}{johantep}\Cn{margsat}{johantep}\Cn{henralb}{britarys}
\Cn{pehrkyd}{michkyr}\Cn{britajab}{michkyr}\Cn{johansir}{ingrsir}\Cn{christb}{ingrsir}
\Cn{britava}{mattsva}\Cn{britavb}{mattsvb}\Cn{johanmus}{hansm}\Cn{margmb}{hansm}
\Cn{nilssb}{nilskb}\Cn{olofsb}{mattssir}\Cn{jakobtb}{britatepa}\Cn{annahen}{britatepa}
\Cn{ailira}{johanjaa}\Cn{mickkyd}{claeskb}\Cn{mattskau}{pehrkau}\Cn{annanik}{pehrkau}
\Cn{pahlcal}{mattscal}\Cn{elincalb}{mattscal}\Cn{johanpan}{elinpan}\Cn{elinpul}{elinpan}
\Cn{mickkye}{pehrkya}\Cn{erkkib}{eriksal}\Cn{kaarinab}{eriksal}
\Cn{pekkaa}{marketta}\Cn{niilon}{marketta}\Cn{johanjr}{henrala}\Cn{malina}{henrala}
\Cn{mickkyf}{pehrkyb}\Cn{ailirb}{britajaa}\Cn{ingre}{mickkyc}\Cn{ailirc}{erkkia}
\Cn{vanhaa}{kaarinaa}\Cn{mickkyg}{pehrkyc}\Cn{andaska}{oloftep}
\Cn{johanra}{henralb}\Cn{malinb}{henralb}\Cn{mickkyh}{pehrkyd}\Cn{ailird}{britajab}
\Cn{olofnil}{johansir}
\Cn{nilssc}{olofsb}\Cn{oloftb}{jakobtb}\Cn{pekkak}{ailira}\Cn{ingrka}{mickkyd}
\Cn{carind}{mattskau}\Cn{mariah}{annanik}\Cn{olofjd}{pahlcal}\Cn{karinkd}{pahlcal}
\Cn{hannu}{johanpan}\Cn{hannub}{elinpul}\Cn{jons}{mickkye}\Cn{ailire}{erkkib}
\Cn{vanhab}{kaarinab}\Cn{vanhac}{niilon}\Cn{ingrf}{mickkyf}\Cn{pekkab}{ailirb}
\Cn{olofmd}{ingre}\Cn{kriskd}{ingre}\Cn{pekkac}{ailirc}\Cn{hettab}{mickkyg}
\Cn{hannuask}{andaska}\Cn{ingrg}{mickkyh}\Cn{pekkad}{ailird}
\Cn{vanhad}{olofnil}\Cn{mariet}{olofnil}
\Cn{nilstorm}{oloftb}\Cn{johanrb}{pekkak}\Cn{olofme}{ingrka}\Cn{kriske}{ingrka}
\Cn{ingrkb}{carind}\Cn{ailirf}{mariah}\Cn{carine}{karinkd}\Cn{hettaa}{jons}
\Cn{pekkae}{ailire}\Cn{olofmf}{ingrf}\Cn{kriskf}{ingrf}\Cn{johanrc}{pekkab}
\Cn{johanrd}{pekkac}\Cn{olofmg}{ingrg}\Cn{kriskg}{ingrg}\Cn{johanre}{pekkad}
\Cn{olofmh}{ingrkb}\Cn{kriskh}{ingrkb}\Cn{johanrf}{ailirf}\Cn{ingrkc}{carine}
\Cn{johanrg}{pekkae}\Cn{henrika}{johanrc}\Cn{henrikb}{johanrd}\Cn{henrikc}{johanre}
\Cn{olofmi}{ingrkc}\Cn{kriski}{ingrkc}\Cn{henrikd}{johanrg}
\end{pgfonlayer}
\end{tikzpicture}
\end{document}
